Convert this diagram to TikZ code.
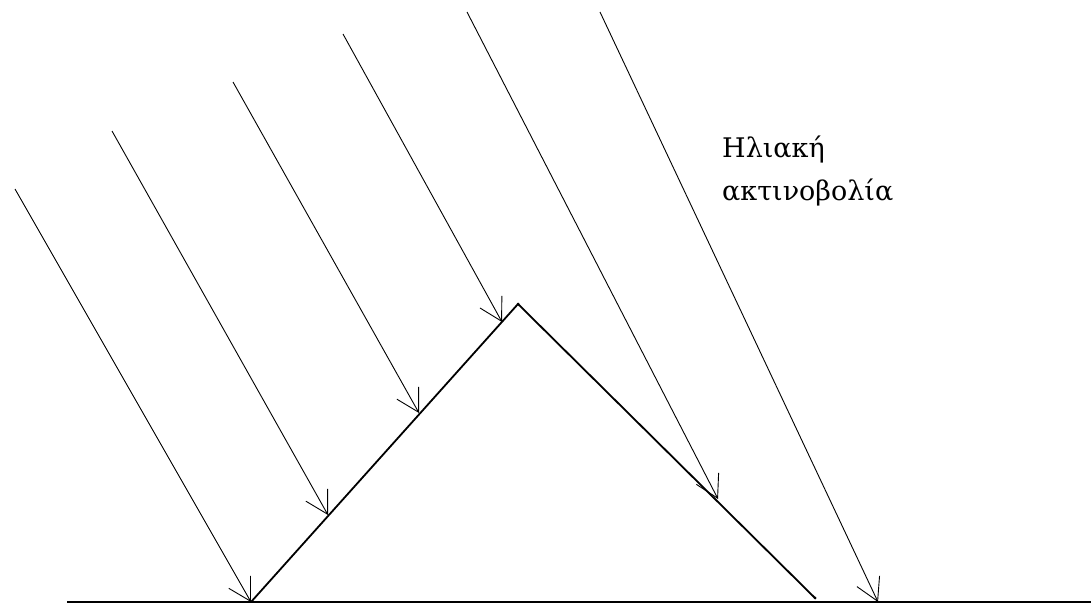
\documentclass[tikz,border=0pt]{standalone}
\usepackage{fontspec}
\setmainfont{DejaVu Serif}
\usetikzlibrary{arrows.meta}
\begin{document}
\begin{tikzpicture}[x=1pt,y=-1pt,
  ray/.style={line width=0.9pt,-{Straight Barb[length=22pt,width=25pt,line width=0.9pt]}},
  roof/.style={line width=1.8pt,line join=round},
  ground/.style={line width=1.8pt},
  lbl/.style={anchor=base west,inner sep=0pt,font=\fontsize{27}{30}\selectfont}]
\useasboundingbox (0,0) rectangle (1091,607);
\coordinate (g0) at (67,602);
\coordinate (g1) at (1091,602);
\coordinate (L) at (251,602);
\coordinate (A) at (518,304);
\coordinate (R) at (815,598);
\draw[ground] (g0) -- (g1);
\draw[roof] (L) -- (A) -- (R);
\fill (A) circle (1.5pt);
\fill (R) circle (1.5pt);
\coordinate (s1) at (15,189);
\coordinate (s2) at (112,131);
\coordinate (s3) at (233,82);
\coordinate (s4) at (343,34);
\coordinate (s5) at (467,12);
\coordinate (s6) at (600,12);
\coordinate (e1) at (251,602);
\coordinate (e2) at (328,515);
\coordinate (e3) at (419,413);
\coordinate (e4) at (502,322);
\coordinate (e5) at (718,499);
\coordinate (e6) at (878,602);
\foreach \i in {1,...,6} \draw[ray] (s\i) -- (e\i);
\node[lbl] (t1) at (722,157) {Ηλιακή};
\node[lbl] (t2) at (722,200) {ακτινοβολία};
\end{tikzpicture}
\end{document}
